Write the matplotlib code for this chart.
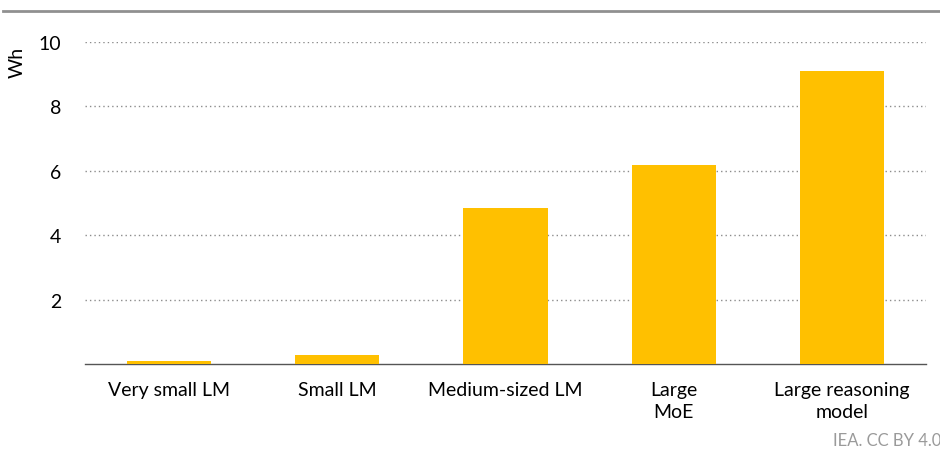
import matplotlib.pyplot as plt
from matplotlib.lines import Line2D

categories = ["Very small LM", "Small LM", "Medium-sized LM", "Large\nMoE", "Large reasoning\nmodel"]
values = [0.08, 0.27, 4.85, 6.17, 9.1]
yticks = [2, 4, 6, 8, 10]

plt.rcParams['font.family'] = ['Lato', 'DejaVu Sans']

fig = plt.figure(figsize=(9.4, 4.56), dpi=100)
ax = fig.add_axes([85/940, 1 - 365/456, (926 - 85)/940, (365 - 43)/456])

x = list(range(len(categories)))
ax.bar(x, values, width=0.5, color="#FFC000", zorder=3)

ax.set_xlim(-0.5, len(categories) - 0.5)
ax.set_ylim(0, 10)
ax.set_yticks(yticks)
ax.set_yticklabels([str(t) for t in yticks], fontsize=14)
ax.set_xticks(x)
ax.set_xticklabels(categories, fontsize=14, linespacing=1.4)
ax.tick_params(axis="both", length=0)
ax.tick_params(axis="y", pad=17)
ax.tick_params(axis="x", pad=12)

ax.grid(axis="y", color="#8c8c8c", linestyle=(0, (1, 2.2)), linewidth=1, zorder=0)
for s in ["top", "right", "left"]:
    ax.spines[s].set_visible(False)
ax.spines["bottom"].set_color("#555555")
ax.spines["bottom"].set_linewidth(1)

fig.text(17/940, 1 - 62/456, "Wh", rotation=90, fontsize=14, ha="center", va="center")
fig.text(833/940, 1 - 441/456, "IEA. CC BY 4.0", fontsize=12, color="#9a9a9a", ha="left", va="center")

fig.add_artist(Line2D([3/940, 1], [1 - 12/456, 1 - 12/456], color="#909090", linewidth=2, transform=fig.transFigure))

fig.savefig("out.png", dpi=100)
